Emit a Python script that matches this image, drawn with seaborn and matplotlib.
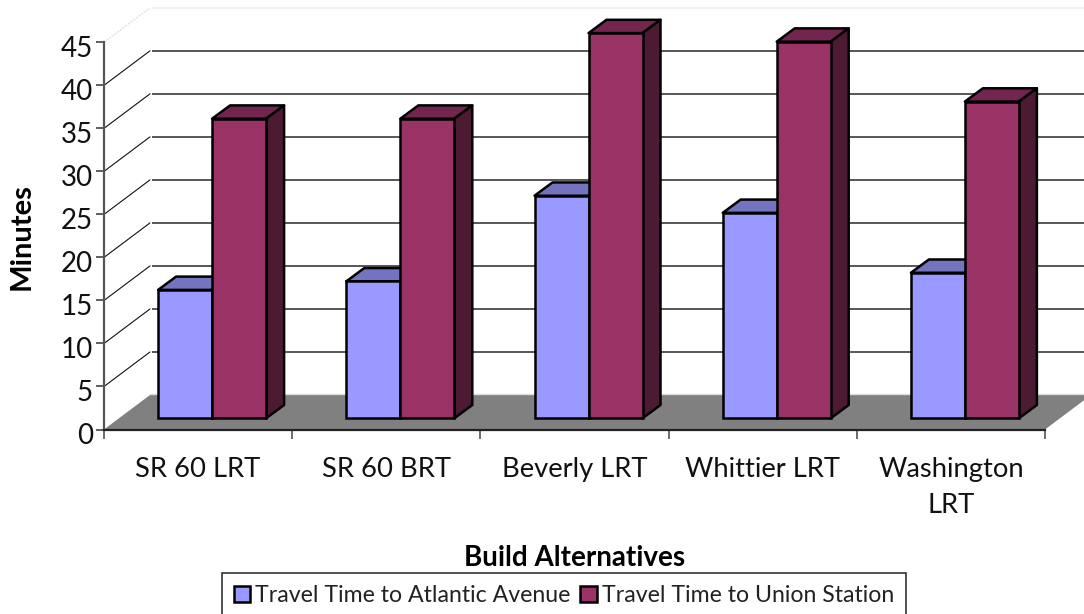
import matplotlib
matplotlib.use("Agg")
import matplotlib.pyplot as plt
import matplotlib.transforms as mtransforms
import numpy as np
import pandas as pd
import seaborn as sns
from matplotlib.patches import Polygon

alternatives = ["SR 60 LRT", "SR 60 BRT", "Beverly LRT", "Whittier LRT", "Washington\nLRT"]
atlantic = [15, 16, 26, 24, 17]
union = [35, 35, 45, 44, 37]
series_names = ["Travel Time to Atlantic Avenue", "Travel Time to Union Station"]
y_ticks = list(range(0, 50, 5))

FRONT = ["#9999FF", "#993366"]
TOP = ["#7373BF", "#73264D"]
SIDE = ["#6666AA", "#4D1A33"]
FONT = "Lato"
W, H = 1084, 614

sns.set_theme(style="white")
plt.rcParams["font.family"] = [FONT, "DejaVu Sans"]
fig = plt.figure(figsize=(W / 100, H / 100), dpi=100, facecolor="white")


def axes_px(l, r, top, bottom):
    return fig.add_axes([l / W, 1 - bottom / H, (r - l) / W, (bottom - top) / H])


# Front plane of the chart box: carries the real axis, walls and floor
ax = axes_px(104, 1045, 42.3, 429.5)
ax.set_xlim(0, 5)
ax.set_ylim(0, 45)
ax.patch.set_alpha(0)
px_x = 941 / 5
px_y = (429.5 - 42.3) / 45
wall_dx = 46 / px_x
wall_dy = 34.5 / px_y

ax.add_patch(Polygon([(0, 0), (wall_dx, wall_dy), (5 + wall_dx, wall_dy), (5, 0)],
                     closed=True, facecolor="#808080", edgecolor="none", clip_on=False, zorder=1))
ax.plot([wall_dx, 5 + wall_dx], [wall_dy + 0.12] * 2, color="#dddddd", lw=1.0, clip_on=False, zorder=1)
for v in y_ticks[1:]:
    last = v == y_ticks[-1]
    color = "#eeeeee" if last else "#2a2a2a"
    ax.plot([wall_dx + 0.01, 5 + wall_dx], [v + wall_dy] * 2, color=color, lw=1.1,
            clip_on=False, zorder=1, solid_capstyle="butt")
    ax.plot([0, wall_dx], [v, v + wall_dy], color="#dddddd" if last else "#111111",
            lw=0.8, ls=(0, (2, 1)) if last else "-", clip_on=False, zorder=1)

sns.despine(ax=ax)
for side in ["left", "bottom"]:
    ax.spines[side].set_linewidth(1.6)
ax.spines["left"].set_color("#555555")
ax.spines["bottom"].set_color("#222222")
ax.set_xticks(np.arange(6))
ax.set_xticks(np.arange(5) + 0.5, minor=True)
ax.set_xticklabels([""] * 6)
ax.set_xticklabels(alternatives, minor=True, fontsize=19.7, color="#111111", linespacing=1.55)
ax.tick_params(axis="x", which="major", bottom=True, length=6.5, width=1.1, color="#444444")
ax.tick_params(axis="x", which="minor", bottom=False, length=0, pad=19.5)
ax.set_yticks(y_ticks)
ax.tick_params(axis="y", left=True, length=6, width=1.1, color="#333333", labelsize=20, pad=2,
               labelcolor="#111111")
shift = mtransforms.ScaledTranslation(0, -4 / 100, fig.dpi_scale_trans)
for lab in ax.get_yticklabels():
    lab.set_transform(lab.get_transform() + shift)
ax.set_xlabel("Build Alternatives", fontsize=20, fontweight="bold", color="black")
ax.xaxis.set_label_coords((575 - 104) / 941, (429.5 - 545) / (429.5 - 42.3))
ax.set_ylabel("Minutes", fontsize=21, fontweight="bold", color="black")
ax.yaxis.set_label_coords((35 - 104) / 941, (429.5 - 237) / (429.5 - 42.3))

# Bars sit a little behind the front plane
ax_b = axes_px(104 + 14, 1045 + 14, 418.3 - 45 * 8.56, 418.3)
ax_b.patch.set_alpha(0)
df = pd.DataFrame({
    "alternative": alternatives * 2,
    "series": [series_names[0]] * 5 + [series_names[1]] * 5,
    "minutes": atlantic + union,
})
sns.barplot(data=df, x="alternative", y="minutes", hue="series", palette=FRONT, hue_order=series_names,
            order=alternatives, width=108 / 188.2, dodge=True, edgecolor="black", linewidth=1.8,
            saturation=1, ax=ax_b)
handles, labels = ax_b.get_legend_handles_labels()
ax_b.get_legend().remove()
ax_b.set_xlim(-0.5, 4.5)
ax_b.set_ylim(0, 45)
ax_b.axis("off")

d_x = 18 / 188.2
d_y = 13.3 / 8.56
for i, bars in enumerate(ax_b.containers):
    for bar in bars:
        x0, x1 = bar.get_x(), bar.get_x() + bar.get_width()
        top = bar.get_height()
        bar.set_zorder(2 + i)
        bar.set_clip_on(False)
        kw = dict(closed=True, edgecolor="black", linewidth=1.8, clip_on=False, joinstyle="round")
        ax_b.add_patch(Polygon([(x0, top), (x0 + d_x, top + d_y), (x1 + d_x, top + d_y), (x1, top)],
                               facecolor=TOP[i], zorder=1 + i, **kw))
        ax_b.add_patch(Polygon([(x1, 0), (x1 + d_x, d_y), (x1 + d_x, top + d_y), (x1, top)],
                               facecolor=SIDE[i], zorder=1 + i, **kw))

leg = fig.legend(handles, labels, loc="center", bbox_to_anchor=(564 / W, 1 - 595.5 / H), ncol=2,
                 frameon=True, fancybox=False, edgecolor="#333333", framealpha=1, fontsize=16.7,
                 handlelength=0.72, handleheight=0.72, handletextpad=0.22, columnspacing=0.42,
                 borderpad=0.5, labelcolor="#222222")
leg.get_frame().set_linewidth(1.2)

fig.savefig("out.png", dpi=100, facecolor="white")
